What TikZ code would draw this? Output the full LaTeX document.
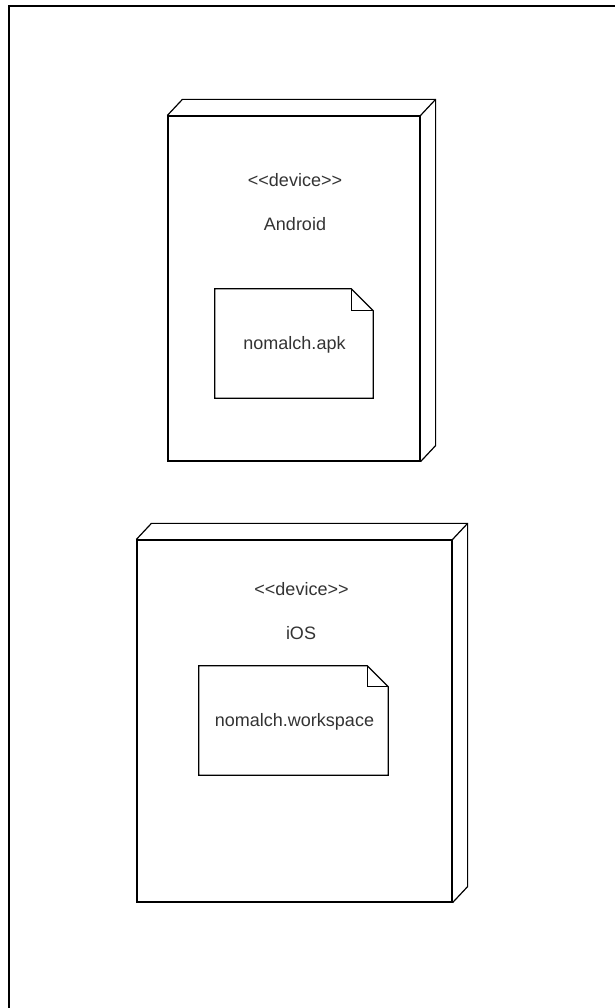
\documentclass[tikz,border=0pt]{standalone}
\usepackage{fontspec}
\newfontfamily\diagramfont{Liberation Sans}
\definecolor{textgrey}{HTML}{333333}
\tikzset{
  outline/.style={line width=1.2pt, draw=black},
  frontbox/.style={outline, rectangle, inner sep=0pt},
  docbox/.style={rectangle, inner sep=0pt},
  caption/.style={text=textgrey, font=\diagramfont\fontsize{18}{22}\selectfont, inner sep=1pt}
}
\begin{document}
\begin{tikzpicture}[x=1pt,y=1pt]
\useasboundingbox (0,0) rectangle (615,1008);
\draw[line width=1.8pt] (9,0)--(9,1002)--(615,1002);
% Android device
\node[frontbox, minimum width=252pt, minimum height=345pt] (android) at (294,719.5) {};
\draw[outline] (android.north west)--++(15,16) -| ([shift={(15,16)}]android.south east)--(android.south east);
\draw[outline] (android.north east)--++(15,16);
\node[caption] (androidtype) at (295,828) {<<device>>};
\node[caption] (androidname) at (295,784) {Android};
\node[docbox, minimum width=158pt, minimum height=109pt] (apk) at (294,664.5) {};
\draw[outline] (apk.south west)--(apk.north west)--([xshift=-22pt]apk.north east)--([yshift=-22pt]apk.north east)--(apk.south east)--cycle;
\draw[outline] ([xshift=-22pt]apk.north east) |- ([yshift=-22pt]apk.north east);
\node[caption] (apkname) at (294.5,663) {nomalch.apk};
% iOS device
\node[frontbox, minimum width=315pt, minimum height=362pt] (ios) at (294.5,287) {};
\draw[outline] (ios.north west)--++(15,16) -| ([shift={(15,16)}]ios.south east)--(ios.south east);
\draw[outline] (ios.north east)--++(15,16);
\node[caption] (iostype) at (301.5,419) {<<device>>};
\node[caption] (iosname) at (301,375) {iOS};
\node[docbox, minimum width=189pt, minimum height=109pt] (workspace) at (293.5,287.5) {};
\draw[outline] (workspace.south west)--(workspace.north west)--([xshift=-21pt]workspace.north east)--([yshift=-21pt]workspace.north east)--(workspace.south east)--cycle;
\draw[outline] ([xshift=-21pt]workspace.north east) |- ([yshift=-21pt]workspace.north east);
\node[caption] (workspacename) at (294.5,286) {nomalch.workspace};
\end{tikzpicture}
\end{document}
